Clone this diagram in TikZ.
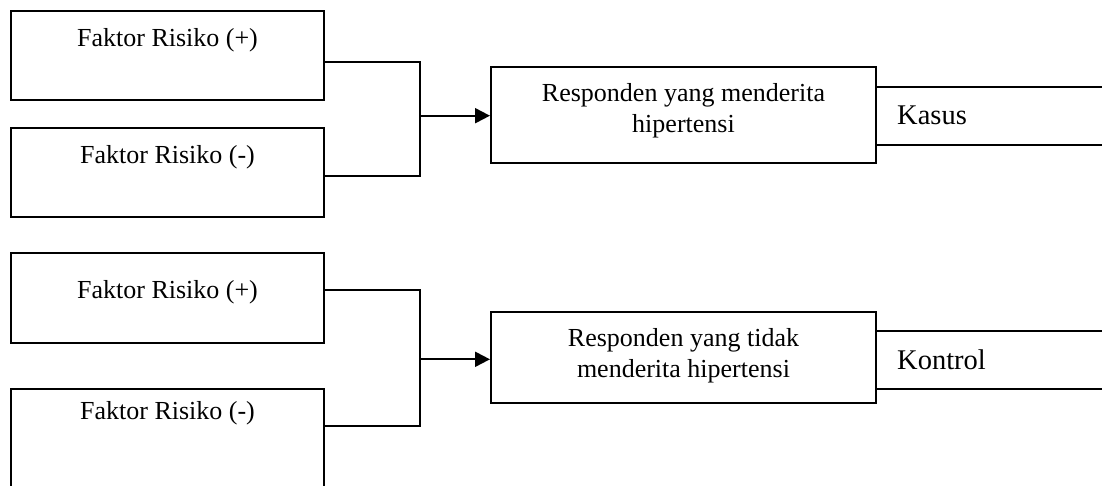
\documentclass[tikz,border=0pt]{standalone}
\usepackage{fontspec}
\setmainfont{Liberation Serif}
\usetikzlibrary{arrows.meta}
\begin{document}
\begin{tikzpicture}[x=1pt,y=-1pt,
  box/.style={draw,line width=2pt,inner sep=0pt},
  lbl/.style={font=\fontsize{26}{31}\selectfont,inner sep=0pt,align=center},
  big/.style={font=\fontsize{28.5}{34}\selectfont,inner sep=0pt,anchor=west},
  conn/.style={line width=2pt},
  arr/.style={line width=2pt,-{Triangle[length=15pt,width=15pt]}}]
\useasboundingbox (0,0) rectangle (1102,486);
\clip (0,0) rectangle (1102,486);
% left boxes
\node[box,minimum width=313pt,minimum height=89pt] (b1) at (167.5,55.5) {};
\node[box,minimum width=313pt,minimum height=89pt] (b2) at (167.5,172.5) {};
\node[box,minimum width=313pt,minimum height=90.6pt] (b5) at (167.5,298) {};
\node[box,minimum width=313pt,minimum height=131pt] (b6) at (167.5,454.5) {};
\node[lbl] (t1) at (167.5,40) {Faktor Risiko (+)};
\node[lbl] (t2) at (167.5,157) {Faktor Risiko (-)};
\node[lbl] (t5) at (167.5,292) {Faktor Risiko (+)};
\node[lbl] (t6) at (167.5,413) {Faktor Risiko (-)};
% middle boxes
\node[box,minimum width=385pt,minimum height=96pt] (b3) at (683.5,115.3) {};
\node[box,minimum width=385pt,minimum height=90.4pt] (b4) at (683.5,357.5) {};
\node[lbl] (t3) at (683.5,111) {Responden yang menderita\\hipertensi};
\node[lbl] (t4) at (683.5,356) {Responden yang tidak\\menderita hipertensi};
% connectors group 1
\coordinate (j1t) at (420,62);
\coordinate (j1b) at (420,176);
\coordinate (j1m) at (420,115.7);
\draw[conn] (b1.east |- j1t) -- (j1t) -- (j1b) -- (b2.east |- j1b);
\draw[arr] (j1m) -- (b3.west |- j1m);
% connectors group 2
\coordinate (j2t) at (420,290);
\coordinate (j2b) at (420,425.7);
\coordinate (j2m) at (420,359.3);
\draw[conn] (b5.east |- j2t) -- (j2t) -- (j2b) -- (b6.east |- j2b);
\draw[arr] (j2m) -- (b4.west |- j2m);
% right lines
\coordinate (r1) at (1102,86.7);
\coordinate (r2) at (1102,145);
\coordinate (r3) at (1102,331);
\coordinate (r4) at (1102,388.7);
\draw[conn] (b3.east |- r1) -- (r1);
\draw[conn] (b3.east |- r2) -- (r2);
\draw[conn] (b4.east |- r3) -- (r3);
\draw[conn] (b4.east |- r4) -- (r4);
\node[big] (kasus) at (897,115.7) {Kasus};
\node[big] (kontrol) at (897,360) {Kontrol};
\end{tikzpicture}
\end{document}
